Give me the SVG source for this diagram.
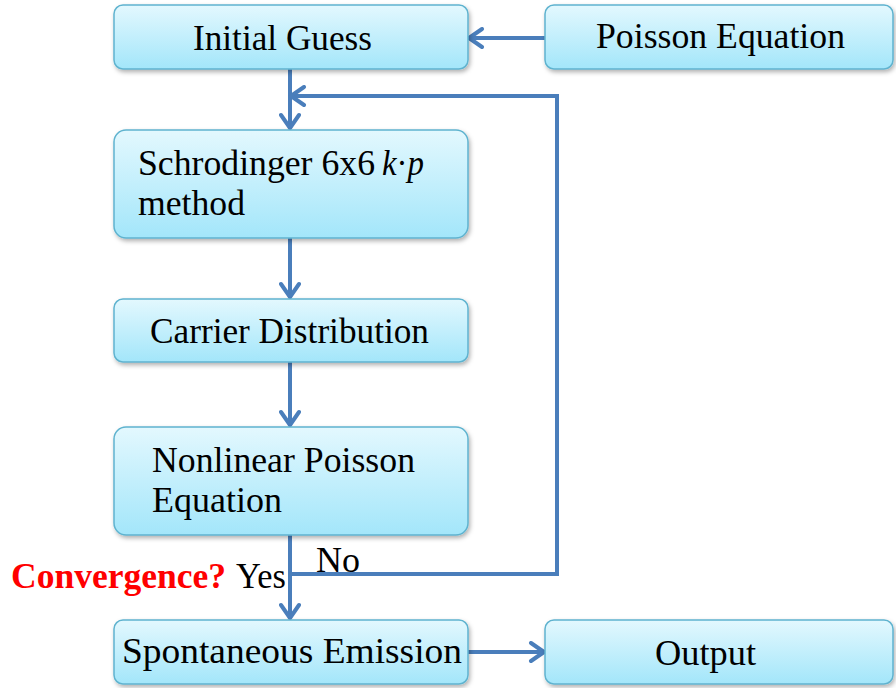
<svg xmlns="http://www.w3.org/2000/svg" width="896" height="688" viewBox="0 0 896 688">
  <defs>
    <linearGradient id="boxFill" x1="0" y1="0" x2="0" y2="1">
      <stop offset="0" stop-color="#e3f8fe"/>
      <stop offset="1" stop-color="#a3e6fa"/>
    </linearGradient>
    <filter id="shadow" x="-5%" y="-10%" width="115%" height="130%">
      <feDropShadow dx="1.5" dy="2.5" stdDeviation="2" flood-color="#000" flood-opacity="0.3"/>
    </filter>
    <marker id="chev" viewBox="0 0 20 22" refX="17" refY="11" markerWidth="20" markerHeight="22" markerUnits="userSpaceOnUse" orient="auto">
      <path d="M4,2 L17,11 L4,20" fill="none" stroke="#4a7ebb" stroke-width="4" stroke-linecap="round" stroke-linejoin="round"/>
    </marker>
  </defs>
  <style>
    .box { fill: url(#boxFill); stroke: #5fb3cf; stroke-width: 1.5; filter: url(#shadow); }
    .t { font-family: "Liberation Serif", "Times New Roman", serif; font-size: 36px; fill: #000; }
    .i { font-style: italic; }
    .wire { fill: none; stroke: #4a7ebb; stroke-width: 4; }
    .red { font-family: "Liberation Serif", "Times New Roman", serif; font-size: 36px; font-weight: bold; fill: #ff0000; }
  </style>

  <rect width="896" height="688" fill="#ffffff"/>

  <g id="connectors">
    <path class="wire" d="M545,38 H469" marker-end="url(#chev)"/>
    <path class="wire" d="M290,69 V128" marker-end="url(#chev)"/>
    <path class="wire" d="M290,574 H557 V96 H291" marker-end="url(#chev)"/>
    <path class="wire" d="M290,238 V297" marker-end="url(#chev)"/>
    <path class="wire" d="M290,362 V425" marker-end="url(#chev)"/>
    <path class="wire" d="M290,535 V618" marker-end="url(#chev)"/>
    <path class="wire" d="M468,652 H544" marker-end="url(#chev)"/>
  </g>

  <g id="initial-guess">
    <rect class="box" x="114" y="5" width="354" height="64" rx="9"/>
    <text class="t" x="193" y="50" textLength="179" lengthAdjust="spacingAndGlyphs">Initial Guess</text>
  </g>

  <g id="poisson-equation">
    <rect class="box" x="545" y="5" width="348" height="64" rx="9"/>
    <text class="t" x="596" y="48" textLength="249" lengthAdjust="spacingAndGlyphs">Poisson Equation</text>
  </g>

  <g id="schrodinger">
    <rect class="box" x="114" y="130" width="354" height="108" rx="12"/>
    <text class="t" x="138" y="175" textLength="237" lengthAdjust="spacingAndGlyphs">Schrodinger 6x6</text>
    <text class="t" x="382" y="175" textLength="42" lengthAdjust="spacingAndGlyphs"><tspan class="i">k</tspan>·<tspan class="i">p</tspan></text>
    <text class="t" x="138" y="215" textLength="107" lengthAdjust="spacingAndGlyphs">method</text>
  </g>

  <g id="carrier-distribution">
    <rect class="box" x="114" y="299" width="354" height="63" rx="9"/>
    <text class="t" x="150" y="343" textLength="279" lengthAdjust="spacingAndGlyphs">Carrier Distribution</text>
  </g>

  <g id="nonlinear-poisson">
    <rect class="box" x="114" y="427" width="354" height="108" rx="12"/>
    <text class="t" x="152" y="472" textLength="263" lengthAdjust="spacingAndGlyphs">Nonlinear Poisson</text>
    <text class="t" x="152" y="512" textLength="130" lengthAdjust="spacingAndGlyphs">Equation</text>
  </g>

  <g id="spontaneous-emission">
    <rect class="box" x="114" y="620" width="354" height="64" rx="9"/>
    <text class="t" x="122" y="663" textLength="340" lengthAdjust="spacingAndGlyphs">Spontaneous Emission</text>
  </g>

  <g id="output">
    <rect class="box" x="545" y="620" width="348" height="64" rx="9"/>
    <text class="t" x="655" y="665" textLength="101" lengthAdjust="spacingAndGlyphs">Output</text>
  </g>

  <g id="labels">
    <text class="red" x="11" y="588" textLength="215" lengthAdjust="spacingAndGlyphs">Convergence?</text>
    <text class="t" x="236" y="588" textLength="50" lengthAdjust="spacingAndGlyphs">Yes</text>
    <text class="t" x="316" y="572" textLength="44" lengthAdjust="spacingAndGlyphs">No</text>
  </g>
</svg>
